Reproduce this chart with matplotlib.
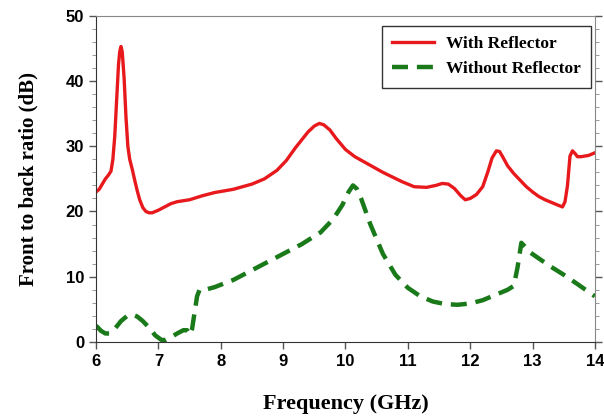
import matplotlib
matplotlib.use('Agg')
import matplotlib.pyplot as plt
from matplotlib.ticker import MultipleLocator

# With reflector (red, solid)
f_with = [6.0, 6.05, 6.1, 6.15, 6.2, 6.24, 6.27, 6.3, 6.33, 6.36, 6.38, 6.4, 6.42, 6.45,
          6.48, 6.51, 6.54, 6.58, 6.62, 6.66, 6.7, 6.75, 6.8, 6.85, 6.9, 7.0,
          7.1, 7.2, 7.3, 7.5, 7.7, 7.9, 8.2, 8.5, 8.7, 8.9, 9.05, 9.2, 9.3, 9.4, 9.5,
          9.58, 9.65, 9.75, 9.85, 10.0, 10.15, 10.3, 10.6, 10.9, 11.1, 11.3, 11.45,
          11.55, 11.65, 11.75, 11.85, 11.92, 12.0, 12.1, 12.2, 12.28, 12.35, 12.42,
          12.47, 12.52, 12.6, 12.7, 12.8, 12.9, 13.0, 13.1, 13.2, 13.3, 13.4, 13.48,
          13.52, 13.56, 13.6, 13.64, 13.68, 13.72, 13.78, 13.9, 14.0]
fbr_with = [23.0, 23.4, 24.2, 25.0, 25.6, 26.2, 28.0, 31.5, 37.0, 42.5, 44.5, 45.3, 44.5, 40.5,
            34.5, 30.0, 28.0, 26.5, 24.8, 23.2, 21.8, 20.6, 20.0, 19.8, 19.8, 20.2,
            20.7, 21.2, 21.5, 21.8, 22.4, 22.9, 23.4, 24.2, 25.0, 26.3, 27.8, 29.8, 31.0, 32.2, 33.1,
            33.5, 33.3, 32.5, 31.2, 29.5, 28.4, 27.6, 26.0, 24.6, 23.8, 23.7, 24.0,
            24.3, 24.2, 23.5, 22.4, 21.8, 22.0, 22.6, 23.8, 26.0, 28.2, 29.3,
            29.2, 28.4, 27.0, 25.8, 24.8, 23.8, 23.0, 22.3, 21.8, 21.4, 21.0, 20.7,
            21.5, 24.0, 28.5, 29.3, 28.9, 28.4, 28.4, 28.6, 29.0]

# Without reflector (green, dashed)
f_without = [6.0, 6.08, 6.15, 6.22, 6.3, 6.4, 6.5, 6.58, 6.66, 6.75, 6.85, 6.95, 7.05,
             7.12, 7.2, 7.3, 7.4, 7.46, 7.5, 7.54, 7.58, 7.62, 7.66, 7.75, 7.9, 8.2,
             8.6, 9.0, 9.3, 9.6, 9.8, 9.95, 10.05, 10.12, 10.18, 10.25, 10.4, 10.6, 10.8,
             11.0, 11.2, 11.4, 11.6, 11.8, 12.0, 12.2, 12.4, 12.6, 12.7, 12.76, 12.82,
             12.88, 12.95, 13.1, 13.3, 13.5, 13.7, 13.85, 14.0]
fbr_without = [2.5, 1.7, 1.3, 1.3, 2.0, 3.2, 4.0, 4.2, 3.9, 3.2, 2.2, 1.0, 0.3,
               0.3, 0.7, 1.3, 1.8, 1.8, 1.1, 2.0, 4.5, 7.0, 8.0, 8.0, 8.4, 9.5,
               11.5, 13.5, 15.0, 16.8, 18.8, 21.0, 23.0, 24.0, 23.5, 22.0, 18.0, 13.5, 10.3,
               8.3, 7.0, 6.2, 5.8, 5.7, 5.9, 6.4, 7.2, 8.0, 8.6, 11.5, 15.2,
               14.6, 13.8, 12.8, 11.5, 10.3, 9.0, 8.0, 7.0]

fig = plt.figure(figsize=(6.04, 4.16), dpi=100)
ax = fig.add_axes([0.159, 0.178, 0.826, 0.784])

ax.plot(f_with, fbr_with, color='#e8191c', lw=2.4, label='With Reflector')
ax.plot(f_without, fbr_without, color='#1a7a1a', lw=3.2, ls=(0, (3.6, 2.0)),
        label='Without Reflector')

ax.set_xlim(6, 14)
ax.set_ylim(0, 50)
ax.xaxis.set_major_locator(MultipleLocator(1))
ax.yaxis.set_major_locator(MultipleLocator(10))
ax.yaxis.set_minor_locator(MultipleLocator(2))

for lab in ax.get_xticklabels() + ax.get_yticklabels():
    lab.set_fontfamily('Liberation Sans')
    lab.set_fontweight('bold')
    lab.set_fontsize(12)
ax.tick_params(axis='both', which='major', length=5, width=1, color='#555555')
ax.tick_params(axis='y', which='minor', length=3, color='#888888', right=True)
ax.tick_params(axis='y', which='major', right=True)

for s in ax.spines.values():
    s.set_color('#888888')
ax.spines['left'].set_color('#333333')
ax.spines['bottom'].set_color('#333333')

ax.set_xlabel('Frequency (GHz)', fontfamily='Liberation Serif', fontweight='bold',
              fontsize=16, labelpad=18)
ax.set_ylabel('Front to back ratio (dB)', fontfamily='Liberation Serif', fontweight='bold',
              fontsize=15, labelpad=20)

leg = ax.legend(loc='upper right', bbox_to_anchor=(1.0, 0.98), fancybox=False,
                prop={'family': 'Liberation Serif', 'weight': 'bold', 'size': 12.5},
                handlelength=2.4, handletextpad=0.7, borderpad=0.6, labelspacing=0.5,
                framealpha=1, borderaxespad=0.2)
leg.get_frame().set_edgecolor('#333333')
leg.get_frame().set_linewidth(1.0)

fig.savefig('out.png', dpi=100)
